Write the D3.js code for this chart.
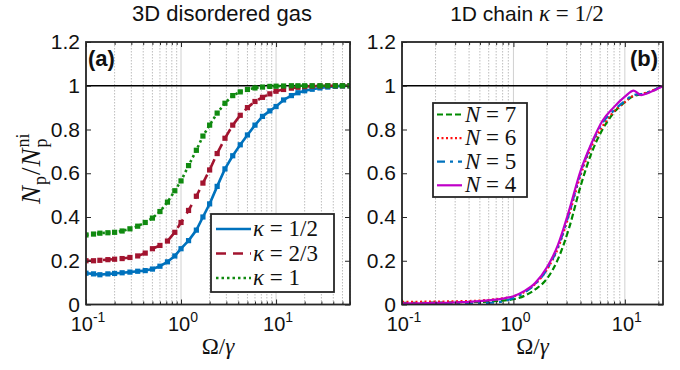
<!DOCTYPE html>
<html>
<head>
<meta charset="utf-8">
<script src="https://cdn.jsdelivr.net/npm/d3@7"></script>
<style>
  body { margin: 0; background: #fff; }
  svg { display: block; }
</style>
</head>
<body>
<svg id="chart" width="680" height="370"></svg>
<script>
// ── Data ─────────────────────────────────────────────────────────────────────
// Panel (a): 3D disordered gas, one curve per kappa
const gasOmega = [0.1, 0.12, 0.14, 0.17, 0.2, 0.24, 0.29, 0.35, 0.42, 0.5, 0.6, 0.72, 0.86,
  1.0, 1.2, 1.45, 1.7, 2.0, 2.4, 2.9, 3.5, 4.2, 5.0, 6.0, 7.2, 8.6, 10, 12, 14.5, 17, 20,
  24, 29, 35, 42, 50, 60];
const gasKappaHalf = [0.143, 0.140, 0.136, 0.140, 0.142, 0.145, 0.148, 0.152, 0.155, 0.162,
  0.175, 0.195, 0.222, 0.255, 0.292, 0.340, 0.400, 0.460, 0.540, 0.620, 0.680, 0.730, 0.775,
  0.820, 0.860, 0.885, 0.905, 0.935, 0.955, 0.968, 0.977, 0.984, 0.990, 0.994, 0.997, 0.999, 1.0];
const gasKappaTwoThirds = [0.200, 0.200, 0.202, 0.205, 0.207, 0.210, 0.215, 0.222, 0.235,
  0.255, 0.270, 0.290, 0.330, 0.375, 0.430, 0.495, 0.555, 0.615, 0.690, 0.760, 0.820, 0.865,
  0.900, 0.928, 0.947, 0.963, 0.975, 0.983, 0.989, 0.993, 0.996, 0.998, 0.999, 1.0, 1.0, 1.0, 1.0];
const gasKappaOne = [0.318, 0.322, 0.326, 0.328, 0.330, 0.336, 0.346, 0.358, 0.375, 0.395,
  0.425, 0.468, 0.520, 0.565, 0.635, 0.705, 0.770, 0.820, 0.875, 0.920, 0.955, 0.972, 0.983,
  0.990, 0.994, 0.997, 0.998, 0.999, 1.0, 1.0, 1.0, 1.0, 1.0, 1.0, 1.0, 1.0, 1.0];

// Panel (b): 1D chain, kappa = 1/2, one curve per chain length N
const chainOmega = [0.1, 0.13, 0.16, 0.2, 0.25, 0.32, 0.4, 0.5, 0.63, 0.8, 1.0, 1.26, 1.58,
  2.0, 2.5, 3.16, 4.0, 5.0, 6.3, 7.9, 10, 12, 14, 16, 18, 20, 22];
const chainN7 = [0.008, 0.008, 0.008, 0.009, 0.009, 0.010, 0.011, 0.012, 0.014, 0.018, 0.024,
  0.040, 0.070, 0.118, 0.205, 0.350, 0.540, 0.690, 0.800, 0.875, 0.925, 0.953, 0.960, 0.968,
  0.978, 0.990, 1.0];
const chainN6 = [0.012, 0.012, 0.013, 0.013, 0.014, 0.015, 0.016, 0.018, 0.022, 0.028, 0.037,
  0.058, 0.095, 0.160, 0.255, 0.410, 0.590, 0.720, 0.815, 0.880, 0.925, 0.955, 0.962, 0.970,
  0.980, 0.990, 1.0];
const chainN5 = [0.002, 0.002, 0.002, 0.003, 0.003, 0.004, 0.005, 0.006, 0.008, 0.014, 0.030,
  0.055, 0.095, 0.160, 0.260, 0.415, 0.600, 0.730, 0.830, 0.885, 0.930, 0.958, 0.962, 0.970,
  0.980, 0.990, 1.0];
const chainN4 = [0.005, 0.005, 0.006, 0.007, 0.008, 0.010, 0.012, 0.015, 0.020, 0.027, 0.038,
  0.062, 0.100, 0.170, 0.270, 0.430, 0.610, 0.735, 0.840, 0.900, 0.950, 0.978, 0.957, 0.966,
  0.977, 0.988, 0.998];

const yTicks = [0, 0.2, 0.4, 0.6, 0.8, 1, 1.2];
const yTickLabels = ['0', '0.2', '0.4', '0.6', '0.8', '1', '1.2'];
const decadeTicks = [0.1, 1, 10];
const decadeExponents = ['-1', '0', '1'];

// ── Layout ───────────────────────────────────────────────────────────────────
const TOP = 42, BOTTOM = 304.5;
const SANS = '"Liberation Sans", Arial, sans-serif';
const SERIF = '"Liberation Serif", "DejaVu Serif", serif';
const AXIS_COLOR = '#262626';

const svg = d3.select('#chart');

function drawPanel(p) {
  const x = d3.scaleLog().domain(p.xDomain).range([p.left, p.right]);
  const y = d3.scaleLinear().domain([0, 1.2]).range([BOTTOM, TOP]);
  const g = svg.append('g');

  // vertical grid (minor dotted, decades solid)
  const gridTicks = x.ticks();
  g.append('g').selectAll('line')
    .data(gridTicks)
    .join('line')
      .attr('x1', d => x(d)).attr('x2', d => x(d))
      .attr('y1', TOP).attr('y2', BOTTOM)
      .attr('stroke', d => decadeTicks.includes(d) ? '#d0d0d0' : '#bdbdbd')
      .attr('stroke-width', 1)
      .attr('stroke-dasharray', d => decadeTicks.includes(d) ? null : '1.5,1.5');

  // reference line at 1
  g.append('line')
    .attr('x1', p.left).attr('x2', p.right)
    .attr('y1', y(1)).attr('y2', y(1))
    .attr('stroke', '#000').attr('stroke-width', 1.5);

  // curves
  const clipId = 'clip-' + p.id;
  svg.append('clipPath').attr('id', clipId)
    .append('rect').attr('x', p.left).attr('y', TOP)
    .attr('width', p.right - p.left).attr('height', BOTTOM - TOP);

  const curvesG = g.append('g').attr('clip-path', `url(#${clipId})`);
  const line = d3.line()
    .x(d => x(d[0]))
    .y(d => y(d[1]))
    .curve(p.curve || d3.curveLinear);

  p.series.forEach(s => {
    const pts = p.xs.map((xv, i) => [xv, s.values[i]]);
    curvesG.append('path')
      .attr('d', line(pts))
      .attr('fill', 'none')
      .attr('stroke', s.color)
      .attr('stroke-width', s.width)
      .attr('stroke-dasharray', s.dash)
      .attr('stroke-linejoin', 'round');
    if (s.marker) {
      curvesG.append('g').selectAll('rect')
        .data(pts)
        .join('rect')
          .attr('x', d => x(d[0]) - 2.6)
          .attr('y', d => y(d[1]) - 2.6)
          .attr('width', 5.2).attr('height', 5.2)
          .attr('fill', s.color);
    }
  });

  // ticks: left/right on y, bottom/top on x (MATLAB-style, pointing in)
  const axes = g.append('g').attr('color', AXIS_COLOR);
  axes.append('g')
    .attr('transform', `translate(${p.left},0)`)
    .call(d3.axisLeft(y).tickValues(yTicks).tickSize(-5).tickPadding(6)
      .tickFormat((d, i) => yTickLabels[i]))
    .call(a => a.select('.domain').remove())
    .call(a => a.selectAll('text')
      .attr('font-family', SANS).attr('font-size', 21).attr('fill', '#111'));
  axes.append('g')
    .attr('transform', `translate(${p.right},0)`)
    .call(d3.axisRight(y).tickValues(yTicks).tickSize(-5).tickFormat(''))
    .call(a => a.select('.domain').remove());

  const minorTicks = gridTicks.filter(d => !decadeTicks.includes(d));
  [[BOTTOM, d3.axisBottom], [TOP, d3.axisTop]].forEach(([yy, axisFn]) => {
    axes.append('g')
      .attr('transform', `translate(0,${yy})`)
      .call(axisFn(x).tickValues(decadeTicks).tickSize(-5).tickFormat(''))
      .call(a => a.select('.domain').remove());
    axes.append('g')
      .attr('transform', `translate(0,${yy})`)
      .call(axisFn(x).tickValues(minorTicks).tickSize(-3).tickFormat(''))
      .call(a => a.select('.domain').remove());
  });

  // x tick labels 10^n
  const lbl = g.append('g').selectAll('text')
    .data(decadeTicks)
    .join('text')
      .attr('x', d => x(d) + 2)
      .attr('y', 331)
      .attr('text-anchor', 'middle')
      .attr('font-family', SANS)
      .attr('font-size', 20)
      .attr('fill', '#111');
  lbl.append('tspan').text('10');
  lbl.append('tspan')
    .attr('font-size', 14)
    .attr('dy', -9)
    .text((d, i) => decadeExponents[i]);

  // frame
  g.append('rect')
    .attr('x', p.left).attr('y', TOP)
    .attr('width', p.right - p.left).attr('height', BOTTOM - TOP)
    .attr('fill', 'none')
    .attr('stroke', AXIS_COLOR)
    .attr('stroke-width', 1.8);

  // x label  Ω/γ
  const xl = g.append('text')
    .attr('x', (p.left + p.right) / 2)
    .attr('y', 354)
    .attr('text-anchor', 'middle')
    .attr('font-family', SERIF)
    .attr('font-size', 23)
    .attr('fill', '#111');
  xl.append('tspan').text('Ω/');
  xl.append('tspan').attr('font-style', 'italic').text('γ');

  // panel tag
  g.append('text')
    .attr('x', p.tagX).attr('y', 66)
    .attr('text-anchor', p.tagAnchor)
    .attr('font-family', SANS)
    .attr('font-weight', 'bold')
    .attr('font-size', 22)
    .attr('fill', '#111')
    .text(p.tag);

  // legend
  const L = p.legend;
  const lg = g.append('g');
  lg.append('rect')
    .attr('x', L.x).attr('y', L.y)
    .attr('width', L.w).attr('height', L.h)
    .attr('fill', '#fff')
    .attr('stroke', AXIS_COLOR)
    .attr('stroke-width', 1.8);
  p.series.forEach((s, i) => {
    const cy = L.y + L.first + i * L.step;
    lg.append('line')
      .attr('x1', L.x + L.lineX0).attr('x2', L.x + L.lineX1)
      .attr('y1', cy).attr('y2', cy)
      .attr('stroke', s.color)
      .attr('stroke-width', s.width)
      .attr('stroke-dasharray', s.dash);
    const t = lg.append('text')
      .attr('x', L.x + L.textX)
      .attr('y', cy + 7)
      .attr('font-family', SERIF)
      .attr('font-size', L.fontSize)
      .attr('fill', '#111');
    t.append('tspan').attr('font-style', 'italic').text(s.sym);
    t.append('tspan').text(' = ' + s.val);
  });
}

// ── Panel (a) ────────────────────────────────────────────────────────────────
drawPanel({
  id: 'a', left: 86, right: 350, xDomain: [0.1, 60], xs: gasOmega,
  tag: '(a)', tagX: 88, tagAnchor: 'start',
  series: [
    { values: gasKappaHalf, color: '#0072bd', width: 2.6, dash: null, marker: true, sym: 'κ', val: '1/2' },
    { values: gasKappaTwoThirds, color: '#a2142f', width: 2.6, dash: '10,7', marker: true, sym: 'κ', val: '2/3' },
    { values: gasKappaOne, color: '#108a10', width: 2.6, dash: '2.5,3', marker: true, sym: 'κ', val: '1' },
  ],
  legend: { x: 211, y: 214, w: 123, h: 78, first: 15, step: 24.5, lineX0: 5, lineX1: 40,
    textX: 42, fontSize: 23 },
});

// ── Panel (b) ────────────────────────────────────────────────────────────────
drawPanel({
  id: 'b', left: 402, right: 663, xDomain: [0.1, 22], xs: chainOmega,
  curve: d3.curveMonotoneX,
  tag: '(b)', tagX: 658, tagAnchor: 'end',
  series: [
    { values: chainN7, color: '#008a00', width: 2.2, dash: '6,3', sym: 'N', val: '7' },
    { values: chainN6, color: '#ff1010', width: 2.2, dash: '2,2.5', sym: 'N', val: '6' },
    { values: chainN5, color: '#0072bd', width: 2.2, dash: '8,5,3,5', sym: 'N', val: '5' },
    { values: chainN4, color: '#c000c8', width: 2.2, dash: null, sym: 'N', val: '4' },
  ],
  legend: { x: 433, y: 103, w: 94, h: 94, first: 11.5, step: 23.6, lineX0: 4, lineX1: 29,
    textX: 32, fontSize: 23 },
});

// ── Titles ───────────────────────────────────────────────────────────────────
svg.append('text')
  .attr('x', 222).attr('y', 21)
  .attr('text-anchor', 'middle')
  .attr('font-family', SANS).attr('font-size', 22).attr('fill', '#111')
  .text('3D disordered gas');

const t2 = svg.append('text')
  .attr('x', 527).attr('y', 21)
  .attr('text-anchor', 'middle')
  .attr('font-family', SANS).attr('font-size', 21).attr('fill', '#111');
t2.append('tspan').text('1D chain ');
t2.append('tspan').attr('font-family', SERIF).attr('font-style', 'italic').attr('font-size', 23).text('κ');
t2.append('tspan').attr('font-family', SERIF).attr('font-size', 23).text(' = 1/2');

// ── Y label  N_p / N_p^ni (rotated, stacked sub/superscript) ────────────────
const yl = svg.append('g').attr('transform', 'translate(40,204) rotate(-90)');
let cx = 0;
function ylPart(txt, opts) {
  const t = yl.append('text')
    .attr('x', opts.x != null ? opts.x : cx)
    .attr('y', opts.dy || 0)
    .attr('font-family', SERIF)
    .attr('font-size', opts.size)
    .attr('font-style', opts.italic ? 'italic' : null)
    .attr('fill', '#111')
    .text(txt);
  return t.node().getComputedTextLength();
}
cx += ylPart('N', { size: 27, italic: true }) + 1;
cx += ylPart('p', { size: 18, dy: 6 }) + 1;
cx += ylPart('/', { size: 27 }) + 1;
cx += ylPart('N', { size: 27, italic: true }) + 1;
const supX = cx;
const w1 = ylPart('ni', { size: 18, dy: -11, x: supX });
const w2 = ylPart('p', { size: 18, dy: 7, x: supX });
cx = supX + Math.max(w1, w2);
</script>
</body>
</html>
